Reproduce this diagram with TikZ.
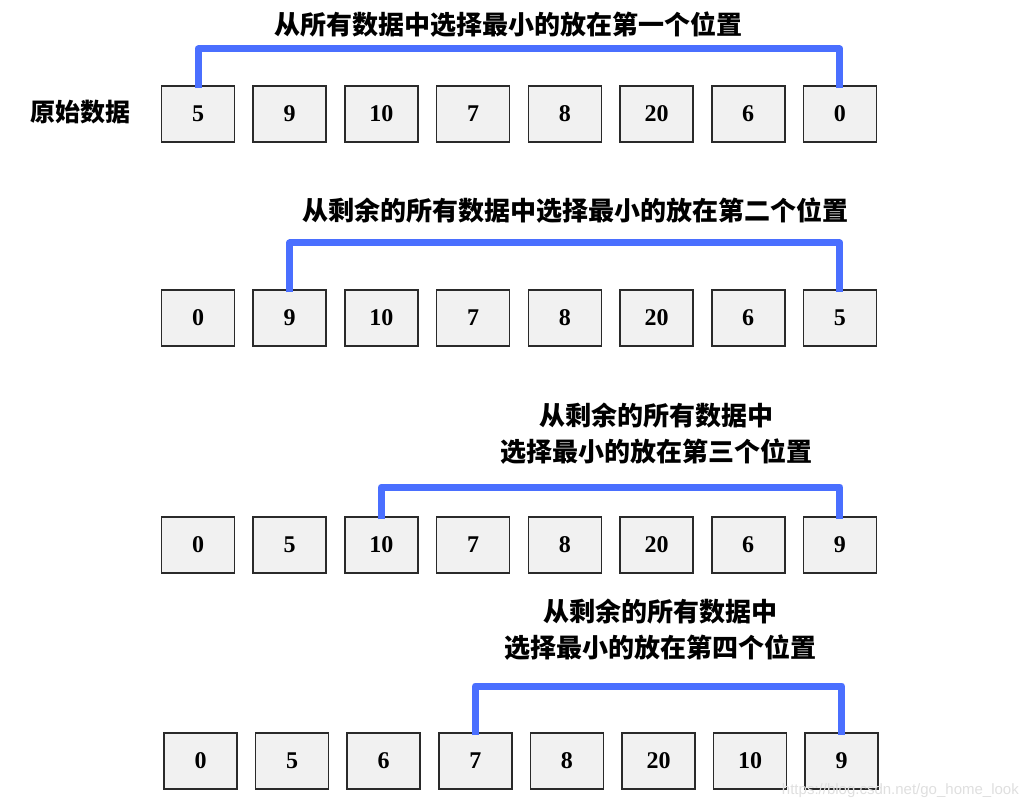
\documentclass[tikz,border=0pt]{standalone}
\usepackage{fontspec}
\setmainfont{Liberation Serif}
\newfontfamily\cjk{Noto Sans CJK SC}
\newfontfamily\wmfont{Liberation Sans}
\definecolor{bracketblue}{HTML}{4A6FFF}
\definecolor{cellfill}{HTML}{F1F1F1}
\definecolor{cellline}{HTML}{2A2A2A}
\tikzset{
  cell/.style={draw=cellline, fill=cellfill, line width=1.6pt, minimum width=73pt, minimum height=56pt, inner sep=0pt, font=\fontsize{24}{24}\selectfont\bfseries},
  bracket/.style={draw=bracketblue, line width=7pt, line join=round},
  title/.style={font=\cjk\bfseries\fontsize{26}{36}\selectfont, align=center, inner sep=0pt},
}
\begin{document}
\begin{tikzpicture}[x=1pt,y=-1pt]
\useasboundingbox (0,0) rectangle (1027,810);
% rows
\foreach \v [count=\i] in {5,9,10,7,8,20,6,0}
  \node[cell] (a\i) at ({198+(\i-1)*91.7},114) {\v};
\foreach \v [count=\i] in {0,9,10,7,8,20,6,5}
  \node[cell] (b\i) at ({198+(\i-1)*91.7},318) {\v};
\foreach \v [count=\i] in {0,5,10,7,8,20,6,9}
  \node[cell] (c\i) at ({198+(\i-1)*91.7},545) {\v};
\foreach \v [count=\i] in {0,5,6,7,8,20,10,9}
  \node[cell] (d\i) at ({200.5+(\i-1)*91.6},761) {\v};
% labels
\node[title, font=\cjk\bfseries\fontsize{25}{36}\selectfont] (lab) at (80,112) {原始数据};
\node[title] (t1) at (508,25) {从所有数据中选择最小的放在第一个位置};
\node[title] (t2) at (575,211) {从剩余的所有数据中选择最小的放在第二个位置};
\node[title] (t3) at (656,434) {从剩余的所有数据中\\选择最小的放在第三个位置};
\node[title] (t4) at (660,630) {从剩余的所有数据中\\选择最小的放在第四个位置};
% brackets
\coordinate (h1) at (0,49);
\coordinate (h2) at (0,243);
\coordinate (h3) at (0,487);
\coordinate (h4) at (0,686);
\draw[bracket] ([yshift=-3pt]a1.north) -- (a1.north |- h1) -- (a8.north |- h1) -- ([yshift=-3pt]a8.north);
\draw[bracket] ([yshift=-3pt]b2.north) -- (b2.north |- h2) -- (b8.north |- h2) -- ([yshift=-3pt]b8.north);
\draw[bracket] ([yshift=-3pt]c3.north) -- (c3.north |- h3) -- (c8.north |- h3) -- ([yshift=-3pt]c8.north);
\draw[bracket] ([yshift=-3pt]d4.north) -- (d4.north |- h4) -- (d8.north |- h4) -- ([yshift=-3pt]d8.north);
% watermark
\node[font=\wmfont\fontsize{15}{15}\selectfont, text=gray!25, inner sep=0pt, anchor=east] (wm) at (1019,791) {https://blog.csdn.net/go\_home\_look};
\end{tikzpicture}
\end{document}
